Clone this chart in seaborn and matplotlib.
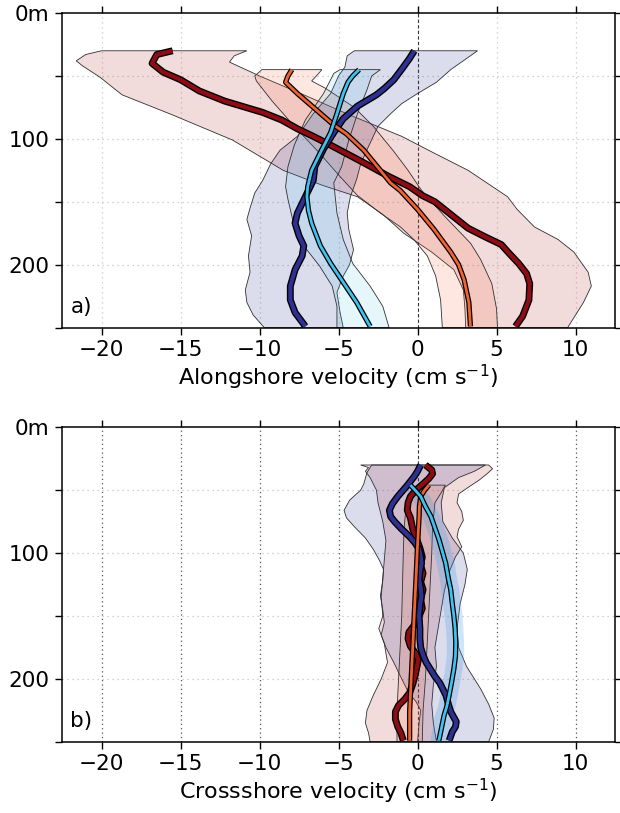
import numpy as np
import matplotlib
matplotlib.use("Agg")
import matplotlib.pyplot as plt
import matplotlib.patheffects as pe
import seaborn as sns

# ---------------- data: panel a (alongshore) ----------------
a_dr_depth = [30, 33, 40, 47, 53, 62, 70, 79, 85, 92, 98, 105, 119, 130, 138, 145, 150, 162, 171, 178, 184, 191, 199, 207, 215, 228, 241, 249]
a_dr_vel = [-15.5, -16.5, -16.8, -16.1, -15.0, -13.8, -12.2, -9.8, -8.6, -7.6, -6.6, -5.5, -3.4, -1.8, -0.5, 0.3, 1.1, 2.3, 3.2, 4.3, 5.3, 5.8, 6.4, 6.9, 7.1, 7.05, 6.65, 6.2]
a_dr_lo_depth = [30, 33, 38, 42, 51, 65, 81, 101, 125, 137, 146, 160, 175, 190, 204, 220, 235, 250]
a_dr_lo = [-20.0, -21.0, -21.6, -21.2, -20.1, -18.7, -15.5, -11.7, -8.5, -6.0, -3.8, -2.2, -0.87, 0.9, 2.3, 2.9, 3.0, 3.05]
a_dr_hi_depth = [30, 34, 39, 50, 65, 81, 98, 111, 125, 146, 156, 170, 180, 190, 206, 217, 230, 250]
a_dr_hi = [-10.8, -11.6, -11.9, -10.0, -7.2, -4.3, -1.0, 1.0, 3.2, 5.7, 6.3, 7.4, 8.9, 9.9, 10.8, 11.0, 10.5, 9.5]

a_nv_depth = [30, 36, 43, 53, 60, 65, 74, 84, 95, 108, 122, 133, 146, 159, 167, 177, 185, 193, 204, 217, 228, 238, 249]
a_nv_vel = [-0.2, -0.5, -0.9, -1.5, -2.1, -2.6, -3.8, -4.7, -5.3, -5.95, -6.5, -6.6, -7.1, -7.6, -7.75, -7.5, -7.2, -7.3, -7.75, -8.05, -8.05, -7.75, -7.1]
a_nv_lo_depth = [30, 34, 43, 50, 64, 80, 98, 109, 120, 133, 143, 155, 164, 177, 193, 206, 220, 230, 240, 250]
a_nv_lo = [-4.0, -4.45, -4.6, -5.0, -5.5, -6.6, -7.6, -8.7, -9.3, -9.8, -10.3, -10.6, -10.8, -10.5, -10.7, -10.6, -10.9, -10.8, -10.4, -9.7]
a_nv_hi_depth = [30, 45, 55, 64, 72, 80, 90, 106, 120, 132, 146, 159, 172, 188, 200, 209, 222, 238, 250]
a_nv_hi = [3.8, 2.1, 1.2, 0.0, -1.0, -1.7, -2.5, -3.1, -3.6, -3.85, -4.25, -4.45, -4.35, -4.05, -4.3, -4.7, -5.1, -4.9, -4.7]

a_lb_depth = [45, 50, 55, 64, 80, 95, 111, 125, 138, 146, 157, 167, 185, 199, 214, 230, 249]
a_lb_vel = [-3.7, -4.1, -4.4, -4.7, -5.1, -5.5, -6.15, -6.7, -6.95, -7.0, -6.9, -6.7, -6.15, -5.5, -4.7, -3.85, -3.0]
a_lb_lo_depth = [45, 48, 53, 64, 85, 105, 122, 138, 148, 167, 185, 201, 217, 233, 250]
a_lb_lo = [-4.9, -5.3, -5.5, -5.95, -7.1, -7.8, -8.2, -8.35, -8.2, -7.85, -7.2, -6.2, -5.4, -5.1, -5.1]
a_lb_hi_depth = [45, 50, 61, 80, 101, 122, 135, 159, 180, 199, 217, 233, 250]
a_lb_hi = [-2.35, -2.9, -3.2, -3.8, -4.35, -4.8, -5.3, -5.1, -4.7, -4.1, -3.0, -2.2, -1.8]

a_or_depth = [45, 50, 55, 64, 77, 89, 96, 109, 122, 135, 141, 156, 172, 190, 200, 212, 230, 249]
a_or_vel = [-7.95, -8.2, -8.35, -7.6, -6.4, -5.3, -4.5, -3.4, -2.55, -1.7, -1.1, 0.0, 1.05, 2.1, 2.6, 2.95, 3.25, 3.35]
a_or_lo_depth = [45, 50, 54, 70, 90, 110, 130, 145, 159, 170, 180, 193, 209, 228, 250]
a_or_lo = [-9.85, -10.3, -10.2, -9.2, -7.8, -6.3, -4.9, -3.8, -2.35, -1.08, -0.23, 0.62, 1.15, 1.46, 1.57]
a_or_hi_depth = [45, 50, 54, 60, 75, 90, 110, 125, 140, 160, 183, 196, 215, 235, 250]
a_or_hi = [-6.05, -6.4, -6.7, -5.8, -4.0, -2.8, -1.5, -0.6, 0.2, 1.6, 3.36, 4.0, 4.7, 5.0, 5.06]

# ---------------- data: panel b (crossshore) ----------------
b_dr_depth = [30, 34, 37, 41, 45, 50, 55, 60, 66, 72, 81, 89, 96, 103, 110, 116, 123, 129, 137, 144, 150, 158, 163, 168, 174, 180, 185, 191, 197, 204, 211, 216, 221, 226, 232, 238, 243, 249]
b_dr_vel = [0.5, 0.9, 0.95, 0.7, 0.35, -0.1, -0.45, -0.6, -0.65, -0.45, -0.3, -0.05, 0.15, 0.3, 0.2, 0.35, 0.2, 0.35, 0.2, 0.3, 0.1, -0.25, -0.55, -0.6, -0.45, -0.1, 0.05, -0.05, -0.15, -0.3, -0.5, -0.8, -1.2, -1.4, -1.4, -1.25, -1.05, -0.9]
b_dr_lo_depth = [30, 32, 35, 40, 50, 60, 75, 90, 105, 120, 135, 150, 160, 172, 187, 200, 213, 225, 235, 243, 250]
b_dr_lo = [-3.6, -3.1, -3.3, -3.0, -2.6, -2.5, -2.2, -2.0, -2.1, -2.2, -2.3, -2.2, -2.45, -2.1, -1.9, -2.3, -2.8, -3.2, -3.3, -3.1, -3.0]
b_dr_hi_depth = [30, 33, 37, 42, 47, 53, 60, 67, 74, 81, 87, 95, 103, 115, 130, 145, 160, 175, 190, 205, 220, 235, 250]
b_dr_hi = [4.5, 4.75, 4.4, 3.9, 3.3, 2.6, 2.5, 2.8, 2.9, 2.6, 2.5, 2.8, 2.4, 2.0, 1.7, 1.5, 1.3, 1.1, 1.2, 1.0, 0.9, 1.0, 1.2]

b_nv_depth = [30, 35, 39, 47, 55, 61, 66, 71, 75, 81, 87, 92, 97, 103, 108, 115, 121, 128, 134, 142, 150, 160, 168, 175, 181, 187, 192, 198, 203, 213, 220, 226, 234, 238, 242, 249]
b_nv_vel = [0.2, 0.0, -0.2, -0.7, -1.25, -1.6, -1.78, -1.7, -1.45, -1.0, -0.5, -0.15, 0.1, 0.2, 0.25, 0.15, 0.1, 0.2, 0.25, 0.15, 0.1, 0.15, 0.15, 0.2, 0.35, 0.55, 0.8, 1.1, 1.4, 1.8, 1.95, 2.1, 2.45, 2.4, 2.2, 2.0]
b_nv_lo_depth = [30, 36, 45, 50, 58, 66, 72, 79, 88, 97, 106, 113, 122, 134, 145, 155, 165, 175, 187, 200, 210, 218, 225, 235, 250]
b_nv_lo = [-2.9, -3.2, -3.4, -3.6, -4.3, -4.65, -4.5, -4.0, -3.3, -2.8, -2.4, -2.15, -2.2, -2.35, -2.2, -2.1, -2.3, -2.0, -1.5, -1.0, -0.6, -0.1, 0.2, 0.1, 0.0]
b_nv_hi_depth = [30, 35, 40, 48, 60, 75, 88, 100, 113, 125, 140, 160, 175, 190, 208, 220, 231, 240, 250]
b_nv_hi = [4.3, 3.6, 2.6, 1.7, 1.5, 1.6, 2.2, 2.9, 3.15, 3.0, 2.7, 2.5, 2.6, 3.1, 4.0, 4.5, 4.85, 4.8, 4.5]

b_lb_depth = [46, 50, 55, 63, 71, 80, 89, 100, 108, 120, 129, 140, 150, 160, 171, 182, 192, 203, 213, 222, 229, 240, 249]
b_lb_vel = [-0.45, -0.15, 0.2, 0.5, 0.85, 1.1, 1.35, 1.6, 1.78, 1.95, 2.1, 2.2, 2.3, 2.38, 2.42, 2.4, 2.3, 2.15, 2.0, 1.85, 1.68, 1.5, 1.35]
b_lb_lo_depth = [46, 55, 63, 71, 80, 89, 100, 108, 120, 129, 140, 150, 160, 171, 182, 192, 203, 213, 222, 229, 240, 250]
b_lb_lo = [-1.08, -0.4, -0.1, 0.3, 0.55, 0.8, 1.05, 1.2, 1.4, 1.5, 1.6, 1.7, 1.8, 1.85, 1.85, 1.75, 1.6, 1.45, 1.3, 1.1, 0.95, 0.8]
b_lb_hi_depth = [46, 55, 63, 71, 80, 89, 100, 108, 120, 129, 140, 150, 160, 171, 182, 192, 203, 213, 222, 229, 240, 250]
b_lb_hi = [0.2, 0.8, 1.1, 1.45, 1.7, 1.95, 2.2, 2.35, 2.5, 2.65, 2.75, 2.85, 2.9, 2.95, 2.95, 2.85, 2.7, 2.55, 2.4, 2.25, 2.05, 1.9]

b_or_depth = [46, 50, 55, 63, 71, 94, 121, 147, 174, 200, 226, 249]
b_or_vel = [0.72, 0.45, 0.2, 0.12, 0.1, 0.0, -0.1, -0.2, -0.3, -0.4, -0.5, -0.5]
b_or_lo_depth = [46, 52, 60, 80, 100, 125, 150, 175, 200, 225, 250]
b_or_lo = [0.2, -0.4, -0.7, -0.85, -0.9, -0.95, -1.0, -1.1, -1.2, -1.3, -1.3]
b_or_hi_depth = [46, 52, 60, 80, 100, 125, 150, 175, 200, 225, 250]
b_or_hi = [1.76, 1.5, 1.1, 0.95, 0.9, 0.8, 0.7, 0.6, 0.5, 0.35, 0.3]

x_ticks = [-20, -15, -10, -5, 0, 5, 10]
y_ticks = [0, 50, 100, 150, 200, 250]
y_ticklabels = ["0m", "", "100", "", "200", ""]
x_labels = ["Alongshore velocity (cm s$^{-1}$)", "Crossshore velocity (cm s$^{-1}$)"]
panel_tags = ["a)", "b)"]

# ---------------- style ----------------
C_DR = "#8e0c14"
C_OR = "#f26232"
C_LB = "#40c2ee"
C_NV = "#2e3192"
S_DR = (0.75, 0.30, 0.30, 0.20)
S_OR = (0.95, 0.38, 0.20, 0.15)
S_NV = (0.18, 0.19, 0.57, 0.17)
S_LB_A = (0.25, 0.76, 0.93, 0.13)
S_LB_B = (0.25, 0.62, 0.90, 0.25)

sns.set_style("ticks")
plt.rcParams["font.family"] = ["DejaVu Sans"]
plt.rcParams["mathtext.default"] = "regular"
plt.rcParams["text.color"] = "black"
plt.rcParams["axes.labelcolor"] = "black"
plt.rcParams["xtick.color"] = "black"
plt.rcParams["ytick.color"] = "black"

fig = plt.figure(figsize=(6.2, 8.13), dpi=100)
ax_a = fig.add_axes([0.100, 0.597, 0.892, 0.387])
ax_b = fig.add_axes([0.100, 0.0875, 0.892, 0.387])


def shade(ax, lo_d, lo, hi_d, hi, fc, edge=True):
    xs = np.concatenate([np.asarray(lo, float), np.asarray(hi, float)[::-1]])
    ys = np.concatenate([np.asarray(lo_d, float), np.asarray(hi_d, float)[::-1]])
    ax.fill(xs, ys, facecolor=fc, edgecolor=("#303030" if edge else "none"),
            linewidth=0.6, zorder=2)


def profile(ax, depth, vel, color, lw, outline):
    sns.lineplot(x=vel, y=depth, orient="y", sort=False, estimator=None,
                 color=color, linewidth=lw, ax=ax, legend=False, zorder=4)
    ln = ax.lines[-1]
    ln.set_solid_capstyle("butt")
    ln.set_solid_joinstyle("round")
    ln.set_path_effects([pe.Stroke(linewidth=outline, foreground="black"), pe.Normal()])


def frame(ax, vgrid_color, vgrid_ls, xlabel, tag):
    ax.set_xlim(-22.5, 12.5)
    ax.set_ylim(250, 0)
    for xv in x_ticks:
        if xv == 0:
            ax.axvline(xv, color="#333333", ls=(0, (3, 2)), lw=0.8, zorder=1)
        else:
            ax.axvline(xv, color=vgrid_color, ls=vgrid_ls, lw=0.9, zorder=1)
    for yv in y_ticks[1:-1]:
        ax.axhline(yv, color="#c4c4c4", ls=(0, (1, 3)), lw=0.9, zorder=1)
    ax.set_xticks(x_ticks)
    ax.set_xticklabels([f"\u2212{abs(v)}" if v < 0 else str(v) for v in x_ticks])
    ax.set_yticks(y_ticks)
    ax.set_yticklabels(y_ticklabels)
    ax.tick_params(direction="out", length=5, width=1.0, labelsize=15.5,
                   top=True, right=True, labeltop=False, labelright=False, pad=4,
                   colors="black", labelcolor="black")
    for s in ax.spines.values():
        s.set_visible(True)
        s.set_linewidth(1.1)
        s.set_color("black")
    ax.set_xlabel(xlabel, fontsize=16, labelpad=2, color="black")
    ax.set_ylabel("")
    ax.text(0.015, 0.035, tag, transform=ax.transAxes, fontsize=15.5,
            ha="left", va="bottom", zorder=6, color="black")


# ---- panel a ----
shade(ax_a, a_dr_lo_depth, a_dr_lo, a_dr_hi_depth, a_dr_hi, S_DR)
shade(ax_a, a_or_lo_depth, a_or_lo, a_or_hi_depth, a_or_hi, S_OR)
shade(ax_a, a_nv_lo_depth, a_nv_lo, a_nv_hi_depth, a_nv_hi, S_NV)
shade(ax_a, a_lb_lo_depth, a_lb_lo, a_lb_hi_depth, a_lb_hi, S_LB_A)
profile(ax_a, a_dr_depth, a_dr_vel, C_DR, 3.0, 5.0)
profile(ax_a, a_nv_depth, a_nv_vel, C_NV, 3.0, 5.0)
profile(ax_a, a_or_depth, a_or_vel, C_OR, 2.0, 3.8)
profile(ax_a, a_lb_depth, a_lb_vel, C_LB, 2.0, 3.8)
frame(ax_a, "#c8c8c8", (0, (1, 3)), x_labels[0], panel_tags[0])

# ---- panel b ----
shade(ax_b, b_dr_lo_depth, b_dr_lo, b_dr_hi_depth, b_dr_hi, S_DR)
shade(ax_b, b_nv_lo_depth, b_nv_lo, b_nv_hi_depth, b_nv_hi, S_NV)
shade(ax_b, b_or_lo_depth, b_or_lo, b_or_hi_depth, b_or_hi, S_OR)
shade(ax_b, b_lb_lo_depth, b_lb_lo, b_lb_hi_depth, b_lb_hi, S_LB_B, edge=False)
profile(ax_b, b_dr_depth, b_dr_vel, C_DR, 3.0, 5.0)
profile(ax_b, b_nv_depth, b_nv_vel, C_NV, 3.0, 5.0)
profile(ax_b, b_or_depth, b_or_vel, C_OR, 2.0, 3.8)
profile(ax_b, b_lb_depth, b_lb_vel, C_LB, 2.0, 3.8)
frame(ax_b, "#555555", (0, (1, 2.5)), x_labels[1], panel_tags[1])

fig.savefig("out.png", dpi=100)
